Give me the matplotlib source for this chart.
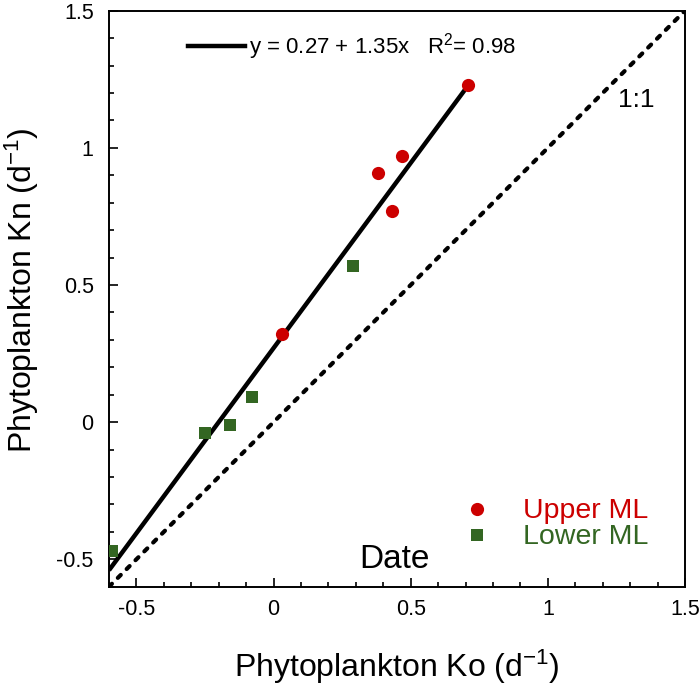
import matplotlib
matplotlib.use('Agg')
import matplotlib.pyplot as plt
from matplotlib.lines import Line2D
from matplotlib.ticker import MultipleLocator

plt.rcParams['font.family'] = ['Liberation Sans', 'DejaVu Sans']
plt.rcParams['mathtext.fontset'] = 'custom'
plt.rcParams['mathtext.rm'] = 'Liberation Sans'
plt.rcParams['mathtext.it'] = 'Liberation Sans:italic'
plt.rcParams['axes.unicode_minus'] = False

# data
upper_ko = [0.03, 0.38, 0.43, 0.47, 0.71]
upper_kn = [0.32, 0.91, 0.77, 0.97, 1.23]
lower_ko = [-0.59, -0.25, -0.16, -0.08, 0.29]
lower_kn = [-0.47, -0.04, -0.01, 0.09, 0.57]

fit_intercept = 0.27
fit_slope = 1.35
fit_range = [-0.6, 0.71]
fit_label = r'y = 0.27 + 1.35x   R$^2$= 0.98'

lims = [-0.6, 1.5]
ticks = [-0.5, 0, 0.5, 1, 1.5]
tick_labels = ['-0.5', '0', '0.5', '1', '1.5']

red = '#cc0000'
green = '#336622'

fig = plt.figure(figsize=(7, 6.85), dpi=100)
ax = fig.add_axes([0.1557, 0.1435, 0.8229, 0.8409])

# 1:1 line
ax.plot(lims, lims, color='black', lw=3, linestyle=(0, (1.0, 2.0)),
        dash_capstyle='round', zorder=2)
# regression line
fit_y = [fit_intercept + fit_slope * x for x in fit_range]
ax.plot(fit_range, fit_y, color='black', lw=3.2, solid_capstyle='butt', zorder=2)

ax.plot(upper_ko, upper_kn, 'o', color=red, ms=9.5, mew=0, zorder=3)
ax.plot(lower_ko, lower_kn, 's', color=green, ms=9, mew=0, zorder=3)

ax.set_xlim(lims)
ax.set_ylim(lims)
ax.set_xticks(ticks)
ax.set_xticklabels(tick_labels)
ax.set_yticks(ticks)
ax.set_yticklabels(tick_labels)
ax.xaxis.set_minor_locator(MultipleLocator(0.1))
ax.yaxis.set_minor_locator(MultipleLocator(0.1))
ax.tick_params(which='both', direction='in', top=False, right=False,
               width=1.2, labelsize=15.5)
ax.tick_params(which='major', length=6.5)
ax.tick_params(which='minor', length=3.6)
ax.tick_params(axis='x', pad=9)
ax.tick_params(axis='y', pad=11)
for s in ax.spines.values():
    s.set_linewidth(1.4)

ax.set_xlabel(r'Phytoplankton Ko (d$^{-1}$)', fontsize=23, labelpad=20)
ax.set_ylabel(r'Phytoplankton Kn (d$^{-1}$)', fontsize=23)
ax.yaxis.set_label_coords(-0.118, 0.515)

ax.text(0.44, -0.53, 'Date', fontsize=24, ha='center', va='baseline')
ax.text(1.255, 1.149, '1:1', fontsize=19, ha='left', va='baseline')

fit_handle = Line2D([], [], color='black', lw=3.2)
leg1 = ax.legend([fit_handle], [fit_label], loc='center left',
                 bbox_to_anchor=(0.137, 0.937), frameon=False, fontsize=16,
                 handlelength=2.55, handletextpad=0.2, borderpad=0,
                 borderaxespad=0)
ax.add_artist(leg1)

h_up = Line2D([], [], marker='o', ls='none', color=red, ms=9.5, mew=0)
h_lo = Line2D([], [], marker='s', ls='none', color=green, ms=9, mew=0)
leg2 = ax.legend([h_up, h_lo], ['Upper ML', 'Lower ML'], loc='center left',
                 bbox_to_anchor=(0.615, 0.108), frameon=False, fontsize=20.5,
                 handlelength=1, handletextpad=1.1, labelspacing=0.0,
                 borderpad=0, borderaxespad=0, labelcolor='markerfacecolor')

fig.savefig('out.png', dpi=100)
